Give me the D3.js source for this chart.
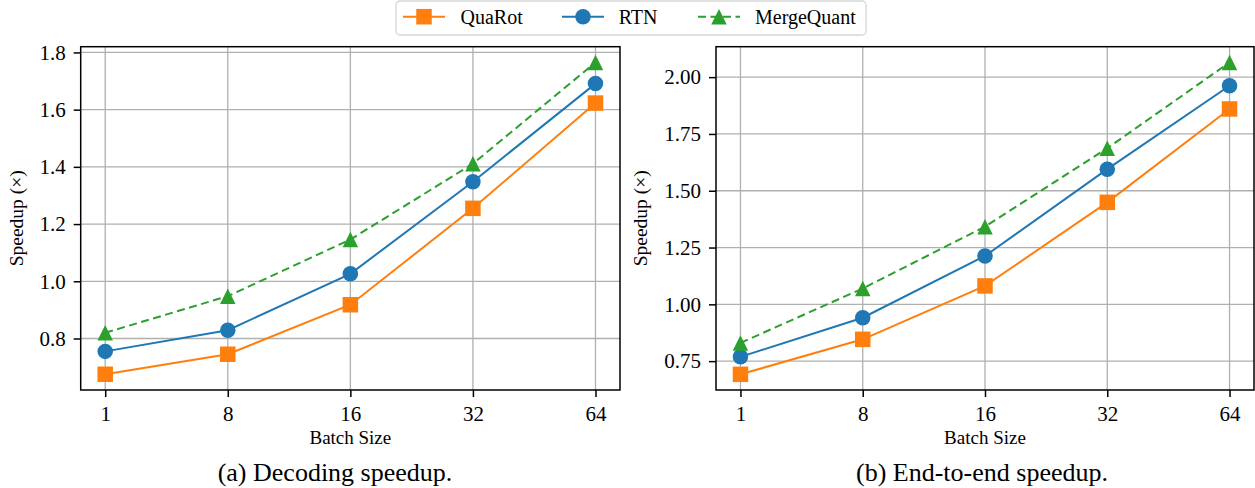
<!DOCTYPE html>
<html>
<head>
<meta charset="utf-8">
<script src="https://cdn.jsdelivr.net/npm/d3@7"></script>
<style>
  html, body { margin: 0; padding: 0; background: #ffffff; }
  svg { display: block; }
  text { font-family: "Liberation Serif", "DejaVu Serif", serif; fill: #000; }
</style>
</head>
<body>
<svg id="chart" width="1255" height="488"></svg>
<script>
// ---- data ----
const batchSizes = ["1", "8", "16", "32", "64"];
const seriesNames = ["QuaRot", "RTN", "MergeQuant"];
const decQuaRot = [0.675, 0.745, 0.918, 1.255, 1.623];
const decRTN    = [0.755, 0.829, 1.026, 1.348, 1.691];
const decMerge  = [0.820, 0.948, 1.146, 1.411, 1.765];
const e2eQuaRot = [0.692, 0.846, 1.081, 1.449, 1.860];
const e2eRTN    = [0.769, 0.941, 1.213, 1.595, 1.962];
const e2eMerge  = [0.830, 1.070, 1.342, 1.687, 2.065];
const decTicks = [0.8, 1.0, 1.2, 1.4, 1.6, 1.8];
const e2eTicks = [0.75, 1.0, 1.25, 1.5, 1.75, 2.0];
const decTickLabels = ["0.8", "1.0", "1.2", "1.4", "1.6", "1.8"];
const e2eTickLabels = ["0.75", "1.00", "1.25", "1.50", "1.75", "2.00"];
const captions = ["(a) Decoding speedup.", "(b) End-to-end speedup."];
const xLabel = "Batch Size";
const yLabel = "Speedup (\u00d7)";

// ---- styles ----
const colors = { QuaRot: "#ff7f0e", RTN: "#1f77b4", MergeQuant: "#2ca02c" };
const markers = { QuaRot: "square", RTN: "circle", MergeQuant: "triangle" };
const dashes = { QuaRot: null, RTN: null, MergeQuant: "8,4.5" };

const svg = d3.select("#chart");

const panels = [
  { left: 80.7, right: 620, top: 46.7, bottom: 390, yDomain: [0.62, 1.82],
    ticks: decTicks, tickLabels: decTickLabels,
    data: { QuaRot: decQuaRot, RTN: decRTN, MergeQuant: decMerge },
    caption: captions[0], capX: 335, yLabelX: 22.5 },
  { left: 716, right: 1254, top: 46.7, bottom: 390, yDomain: [0.623, 2.134],
    ticks: e2eTicks, tickLabels: e2eTickLabels,
    data: { QuaRot: e2eQuaRot, RTN: e2eRTN, MergeQuant: e2eMerge },
    caption: captions[1], capX: 982, yLabelX: 647 }
];

function drawMarker(g, type, cx, cy, color) {
  const s = 15.5;
  if (type === "square") {
    g.append("rect").attr("x", cx - s / 2).attr("y", cy - s / 2)
      .attr("width", s).attr("height", s).attr("fill", color);
  } else if (type === "circle") {
    g.append("circle").attr("cx", cx).attr("cy", cy).attr("r", s / 2).attr("fill", color);
  } else {
    const h = s / 2;
    g.append("path")
      .attr("d", `M${cx},${cy - h}L${cx - h},${cy + h}L${cx + h},${cy + h}Z`)
      .attr("fill", color);
  }
}

panels.forEach(p => {
  const x = d3.scaleLinear().domain([-0.2, 4.2]).range([p.left, p.right]);
  const y = d3.scaleLinear().domain(p.yDomain).range([p.bottom, p.top]);
  const g = svg.append("g");

  // grid
  const grid = g.append("g");
  batchSizes.forEach((b, i) => {
    grid.append("line").attr("x1", x(i)).attr("x2", x(i))
      .attr("y1", p.top).attr("y2", p.bottom)
      .attr("stroke", "#b0b0b0").attr("stroke-width", 1.3);
  });
  p.ticks.forEach(t => {
    grid.append("line").attr("x1", p.left).attr("x2", p.right)
      .attr("y1", y(t)).attr("y2", y(t))
      .attr("stroke", "#b0b0b0").attr("stroke-width", 1.3);
  });

  // series
  seriesNames.forEach(name => {
    const vals = p.data[name];
    const line = d3.line().x((d, i) => x(i)).y(d => y(d));
    g.append("path").datum(vals).attr("d", line)
      .attr("fill", "none").attr("stroke", colors[name]).attr("stroke-width", 2)
      .attr("stroke-dasharray", dashes[name]);
    vals.forEach((v, i) => drawMarker(g, markers[name], x(i), y(v), colors[name]));
  });

  // frame
  g.append("rect").attr("x", p.left).attr("y", p.top)
    .attr("width", p.right - p.left).attr("height", p.bottom - p.top)
    .attr("fill", "none").attr("stroke", "#000").attr("stroke-width", 1.5);

  // axes
  const xAxis = d3.axisBottom(x).tickValues(d3.range(batchSizes.length))
    .tickFormat(i => batchSizes[i]).tickSize(7).tickPadding(9);
  const ax = g.append("g").attr("transform", `translate(0,${p.bottom})`).call(xAxis);
  const yAxis = d3.axisLeft(y).tickValues(p.ticks)
    .tickFormat((d, i) => p.tickLabels[i]).tickSize(7).tickPadding(8);
  const ay = g.append("g").attr("transform", `translate(${p.left},0)`).call(yAxis);
  [ax, ay].forEach(a => {
    a.select(".domain").remove();
    a.selectAll(".tick line").attr("stroke", "#000").attr("stroke-width", 1.5);
    a.selectAll(".tick text").attr("font-size", "21px")
      .attr("font-family", "'Liberation Serif', 'DejaVu Serif', serif").attr("fill", "#000");
  });

  // labels
  g.append("text").attr("x", (p.left + p.right) / 2).attr("y", 444)
    .attr("text-anchor", "middle").attr("font-size", "19px").text(xLabel);
  g.append("text")
    .attr("transform", `translate(${p.yLabelX},${(p.top + p.bottom) / 2}) rotate(-90)`)
    .attr("text-anchor", "middle").attr("font-size", "19.5px").text(yLabel);
  g.append("text").attr("x", p.capX).attr("y", 481)
    .attr("text-anchor", "middle").attr("font-size", "26px").text(p.caption);
});

// legend
const lg = svg.append("g");
lg.append("rect").attr("x", 396).attr("y", 1).attr("width", 470).attr("height", 34)
  .attr("rx", 4).attr("fill", "#fff").attr("stroke", "#d6d6d6").attr("stroke-width", 1.3);
const legendItems = [
  { name: "QuaRot", x1: 403, x2: 445, tx: 460.5 },
  { name: "RTN", x1: 562, x2: 604, tx: 618.7 },
  { name: "MergeQuant", x1: 698, x2: 740, tx: 755 }
];
legendItems.forEach(it => {
  lg.append("line").attr("x1", it.x1).attr("x2", it.x2).attr("y1", 16.7).attr("y2", 16.7)
    .attr("stroke", colors[it.name]).attr("stroke-width", 2)
    .attr("stroke-dasharray", dashes[it.name]);
  drawMarker(lg, markers[it.name], (it.x1 + it.x2) / 2, 16.7, colors[it.name]);
  lg.append("text").attr("x", it.tx).attr("y", 24).attr("font-size", "20px").text(it.name);
});
</script>
</body>
</html>
